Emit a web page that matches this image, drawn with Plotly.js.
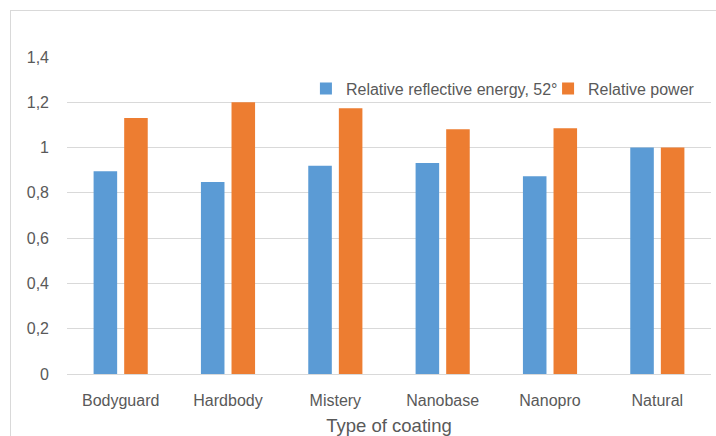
<!DOCTYPE html>
<html>
<head>
<meta charset="utf-8">
<script src="https://cdn.plot.ly/plotly-3.0.1.min.js"></script>
<style>
html,body{margin:0;padding:0;background:#fff;}
#wrap{position:relative;width:716px;height:436px;overflow:hidden;}
#chart{width:716px;height:436px;}
#frame{position:absolute;left:10px;top:10px;width:720px;height:440px;border:1px solid #d9d9d9;pointer-events:none;}
</style>
</head>
<body>
<div id="wrap"><div id="chart"></div><div id="frame"></div></div>
<script>
const categories = ["Bodyguard", "Hardbody", "Mistery", "Nanobase", "Nanopro", "Natural"];
const reflectiveEnergy = [0.895, 0.848, 0.920, 0.932, 0.873, 1.0];
const relativePower = [1.131, 1.200, 1.174, 1.081, 1.085, 1.0];
const seriesNames = ["Relative reflective energy, 52°", "Relative power"];
const yTicks = [0, 0.2, 0.4, 0.6, 0.8, 1, 1.2, 1.4];

const font = "Liberation Sans, Arial, sans-serif";
const textColor = "#595959";

const traces = [
  {type: "bar", x: categories, y: reflectiveEnergy, name: seriesNames[0],
   marker: {color: "#5b9bd5"}, legend: "legend"},
  {type: "bar", x: categories, y: relativePower, name: seriesNames[1],
   marker: {color: "#ed7d31"}, legend: "legend2"}
];

const legendFont = {family: font, size: 16, color: textColor};
const layout = {
  width: 716, height: 436,
  margin: {l: 67, r: 5, t: 57, b: 62},
  paper_bgcolor: "#fff", plot_bgcolor: "#fff",
  separators: ", ",
  barmode: "group", bargap: 0.43, bargroupgap: 0.23,
  font: {family: font, color: textColor, size: 16},
  showlegend: true,
  legend: {orientation: "h", x: 0.371, xanchor: "left", y: 0.90, yanchor: "middle",
           font: legendFont, bgcolor: "rgba(0,0,0,0)"},
  legend2: {orientation: "h", x: 0.747, xanchor: "left", y: 0.90, yanchor: "middle",
           font: legendFont, bgcolor: "rgba(0,0,0,0)"},
  xaxis: {type: "category", showgrid: false, showline: true, linecolor: "#d9d9d9", linewidth: 1,
          ticks: "", tickfont: {family: font, size: 16, color: textColor},
          ticklabelstandoff: 12,
          title: {text: "Type of coating", font: {family: font, size: 18.5, color: textColor}, standoff: 12}},
  yaxis: {range: [0, 1.4], tickvals: yTicks, showgrid: true, gridcolor: "#d9d9d9", gridwidth: 1,
          zeroline: false, showline: false, ticks: "", ticklabelstandoff: 17,
          tickfont: {family: font, size: 16, color: textColor}}
};

Plotly.newPlot("chart", traces, layout, {displayModeBar: false, staticPlot: true});
</script>
</body>
</html>
